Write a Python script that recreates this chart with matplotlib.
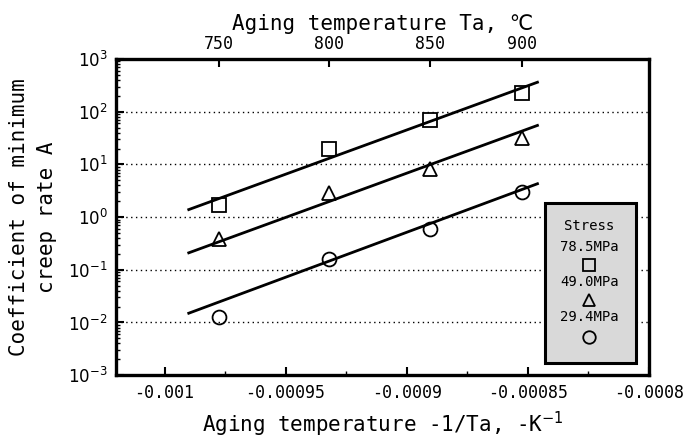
import numpy as np
import matplotlib
matplotlib.use("Agg")
from matplotlib import pyplot as plt
from matplotlib.patches import Rectangle

plt.rcParams['font.family'] = ['DejaVu Sans Mono', 'DejaVu Sans']
plt.rcParams['mathtext.fontset'] = 'dejavusans'

# aging temperatures (C) and coefficient A for each stress
temp_c = np.array([750, 800, 850, 900])
a_785 = np.array([1.67, 20, 70, 225])
a_490 = np.array([0.39, 2.9, 8.3, 32])
a_294 = np.array([0.0129, 0.157, 0.605, 3.0])

# fitted lines (end points)
fit_x = np.array([-0.000990, -0.000846])
fit_785 = np.array([1.39, 363])
fit_490 = np.array([0.21, 55])
fit_294 = np.array([0.015, 4.3])

stress_labels = ["78.5MPa", "49.0MPa", "29.4MPa"]
markers = ["s", "^", "o"]

x = -1.0 / (temp_c + 273.0)

fig = plt.figure(figsize=(6.83, 4.44), dpi=100)
ax = fig.add_axes([0.170, 0.155, 0.780, 0.712])

for fy in [fit_785, fit_490, fit_294]:
    ax.plot(fit_x, fy, color='black', lw=2.0, zorder=3)
for vals, mk in zip([a_785, a_490, a_294], markers):
    ax.plot(x, vals, linestyle='none', marker=mk, ms=10, mfc='none',
            mec='black', mew=1.3, zorder=4)

ax.set_yscale('log')
ax.set_ylim(1e-3, 1e3)
ax.set_xlim(-0.00102, -0.0008)
ax.set_xticks([-0.001, -0.00095, -0.0009, -0.00085, -0.0008])
ax.set_xticklabels(["-0.001", "-0.00095", "-0.0009", "-0.00085", "-0.0008"])
ax.set_xticks(np.arange(-0.001, -0.0008, 0.000025), minor=True)
ax.set_yticks([1e-3, 1e-2, 1e-1, 1e0, 1e1, 1e2, 1e3])
ax.set_yticklabels([r"$10^{%d}$" % k for k in range(-3, 4)])
ax.yaxis.set_minor_locator(matplotlib.ticker.LogLocator(base=10, subs=np.arange(2, 10)))
ax.yaxis.set_minor_formatter(matplotlib.ticker.NullFormatter())

for k in range(-2, 3):
    ax.axhline(10.0 ** k, color='black', lw=1.0, ls=(0, (1, 2.5)), zorder=1)

ax.tick_params(axis='both', which='major', direction='in', length=6, width=1.5,
               labelsize=12, top=False, right=False, pad=6)
ax.tick_params(axis='both', which='minor', direction='in', length=3, width=1.0,
               top=False, right=False)
for sp in ax.spines.values():
    sp.set_linewidth(2.4)

top = ax.secondary_xaxis('top', functions=(lambda v: -1.0 / v - 273.0,
                                           lambda c: -1.0 / (c + 273.0)))
top.set_xticks(temp_c)
top.set_xticklabels([str(t) for t in temp_c])
top.tick_params(direction='in', length=6, width=1.5, labelsize=12, pad=4)
top.set_xlabel("Aging temperature Ta, ℃", fontsize=15, labelpad=4)

ax.set_xlabel(r"Aging temperature -1/Ta, -K$^{-1}$", fontsize=15, labelpad=6)
ax.set_ylabel("Coefficient of minimum\ncreep rate A", fontsize=15, labelpad=8,
              linespacing=1.5)

# legend box
ax.add_patch(Rectangle((0.805, 0.038), 0.171, 0.506, transform=ax.transAxes,
                       facecolor='#d9d9d9', edgecolor='black', lw=2.2, zorder=5))
ax.text(0.888, 0.472, "Stress", transform=ax.transAxes, ha='center', va='center',
        fontsize=10, zorder=6)
text_y = [0.405, 0.294, 0.184]
mark_y = [0.348, 0.237, 0.120]
for lab, mk, ty, my in zip(stress_labels, markers, text_y, mark_y):
    ax.text(0.888, ty, lab, transform=ax.transAxes, ha='center', va='center',
            fontsize=10, zorder=6)
    ax.plot([0.888], [my], transform=ax.transAxes, marker=mk, ms=9,
            mfc='none', mec='black', mew=1.3, ls='none', zorder=6, clip_on=False)

fig.savefig("out.png", dpi=100)
